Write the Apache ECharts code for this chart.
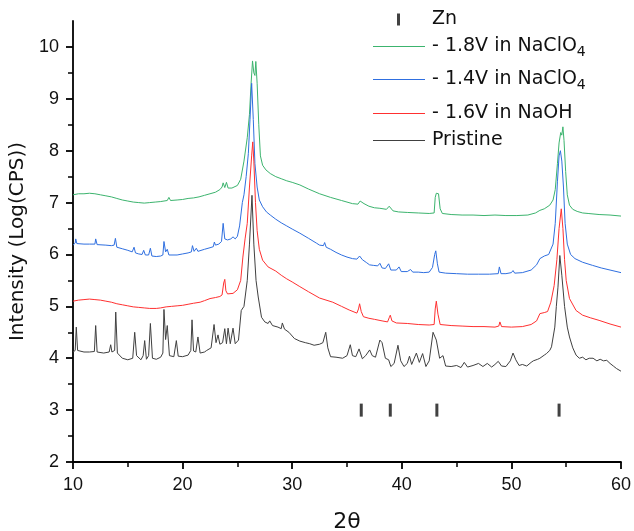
<!DOCTYPE html>
<html>
<head>
<meta charset="utf-8">
<script src="https://cdn.jsdelivr.net/npm/echarts@6/dist/echarts.min.js"></script>
<style>
  html, body { margin: 0; padding: 0; background: #fff; }
  #chart { width: 634px; height: 531px; }
</style>
</head>
<body>
<div id="chart"></div>
<script>
// XRD patterns, log(CPS) with vertical offsets
const green18V = [[10,7.15],[10.5,7.17],[11,7.17],[11.5,7.18],[12,7.17],[12.5,7.15],[13,7.13],[13.5,7.11],[14,7.08],[14.5,7.05],[15,7.03],[15.5,7.01],[16,7.0],[16.5,6.99],[17,7.0],[17.5,7.01],[18,7.02],[18.6,7.04],[18.75,7.1],[18.9,7.04],[19.5,7.05],[20,7.06],[20.5,7.08],[21,7.09],[21.5,7.11],[22,7.14],[22.5,7.17],[23,7.2],[23.4,7.25],[23.6,7.3],[23.7,7.38],[23.85,7.29],[24.0,7.39],[24.15,7.28],[24.5,7.28],[25,7.33],[25.3,7.45],[25.6,7.8],[25.9,8.25],[26.1,8.7],[26.25,9.3],[26.38,9.73],[26.5,9.5],[26.6,9.45],[26.68,9.72],[26.8,9.3],[26.95,8.5],[27.1,7.9],[27.3,7.72],[27.6,7.63],[28,7.56],[28.5,7.5],[29,7.46],[29.5,7.42],[30,7.39],[30.7,7.34],[31.5,7.26],[32.5,7.17],[33.5,7.1],[34.5,7.04],[35.5,6.98],[36.0,6.97],[36.2,7.03],[36.35,7.06],[36.55,6.98],[37,6.93],[37.5,6.9],[38,6.89],[38.6,6.87],[38.85,6.93],[39.0,6.92],[39.2,6.84],[39.7,6.82],[40.5,6.81],[41.5,6.8],[42.5,6.79],[42.95,6.8],[43.05,7.1],[43.15,7.18],[43.35,7.17],[43.5,6.88],[43.7,6.79],[44.5,6.77],[45.5,6.76],[46.5,6.76],[47.5,6.75],[48.5,6.76],[49.5,6.75],[50.5,6.75],[51.5,6.76],[52.2,6.8],[52.6,6.85],[53.0,6.88],[53.5,6.95],[53.8,7.05],[54.0,7.25],[54.2,7.75],[54.35,8.15],[54.5,8.35],[54.6,8.3],[54.7,8.46],[54.8,8.2],[54.95,7.6],[55.1,7.15],[55.3,6.95],[55.6,6.87],[56,6.83],[56.5,6.8],[57,6.79],[58,6.77],[59,6.76],[60,6.74]];

const blue14V = [[10,6.18],[10.2,6.22],[10.25,6.3],[10.35,6.21],[11,6.2],[11.5,6.2],[12,6.2],[12.07,6.3],[12.2,6.19],[13,6.18],[13.5,6.17],[13.75,6.18],[13.87,6.31],[14.0,6.14],[14.5,6.11],[15,6.08],[15.4,6.05],[15.57,6.14],[15.7,6.03],[16,6.01],[16.3,6.0],[16.45,6.08],[16.6,5.99],[16.9,5.99],[17.06,6.12],[17.2,5.97],[17.6,5.96],[18,5.97],[18.2,5.99],[18.3,6.25],[18.45,6.05],[18.6,6.1],[18.75,5.99],[19.5,5.99],[20,6.01],[20.5,6.03],[20.8,6.05],[20.9,6.17],[21.05,6.06],[21.25,6.12],[21.4,6.06],[22,6.1],[22.5,6.13],[22.8,6.15],[22.9,6.24],[23.0,6.18],[23.3,6.2],[23.55,6.25],[23.7,6.6],[23.85,6.3],[24.1,6.28],[24.4,6.3],[24.6,6.34],[24.8,6.3],[25.0,6.35],[25.2,6.55],[25.45,7.0],[25.6,7.15],[25.8,7.5],[26.0,7.95],[26.15,8.6],[26.3,9.3],[26.45,8.6],[26.6,7.75],[26.8,7.3],[27.0,7.05],[27.3,6.92],[27.65,6.82],[28,6.76],[28.5,6.68],[29,6.61],[29.5,6.55],[30,6.49],[30.7,6.41],[31.5,6.31],[32.2,6.22],[32.5,6.18],[32.85,6.17],[32.96,6.23],[33.1,6.14],[33.5,6.1],[34,6.04],[34.5,5.99],[35,5.95],[35.5,5.92],[35.9,5.91],[36.15,5.97],[36.4,5.9],[36.8,5.84],[37.06,5.8],[37.4,5.79],[37.8,5.78],[38.0,5.83],[38.2,5.74],[38.5,5.73],[38.8,5.82],[39.0,5.7],[39.5,5.7],[39.75,5.76],[39.95,5.67],[40.5,5.67],[40.8,5.71],[41.0,5.66],[41.5,5.66],[42,5.65],[42.5,5.66],[42.8,5.75],[43.0,6.0],[43.1,6.07],[43.25,5.82],[43.4,5.66],[44,5.64],[45,5.63],[46,5.62],[47,5.62],[48,5.62],[48.8,5.63],[48.9,5.76],[49.05,5.63],[49.5,5.63],[50.0,5.65],[50.15,5.69],[50.3,5.64],[51,5.65],[51.8,5.7],[52.3,5.8],[52.6,5.92],[53.0,5.97],[53.4,6.0],[53.8,6.2],[54.0,6.6],[54.2,7.4],[54.35,7.9],[54.47,8.0],[54.6,7.8],[54.75,7.3],[54.9,6.6],[55.1,6.2],[55.4,6.0],[55.8,5.92],[56.5,5.85],[57.4,5.79],[58.2,5.74],[59,5.7],[60,5.65]];

const red16V = [[10,5.1],[10.5,5.12],[11,5.13],[11.5,5.14],[12,5.13],[12.5,5.12],[13,5.1],[13.5,5.08],[14,5.05],[14.5,5.03],[15,5.01],[15.5,4.99],[16,4.98],[16.5,4.97],[17,4.96],[17.6,4.96],[18,4.97],[18.5,4.99],[19,5.0],[19.5,5.01],[20,5.02],[20.5,5.04],[21,5.06],[21.6,5.08],[22,5.11],[22.5,5.15],[23,5.17],[23.4,5.19],[23.6,5.22],[23.75,5.45],[23.85,5.52],[23.95,5.3],[24.1,5.24],[24.6,5.25],[25.0,5.32],[25.3,5.5],[25.5,5.95],[25.7,6.3],[25.9,6.6],[26.1,7.3],[26.3,7.9],[26.4,8.17],[26.5,7.8],[26.65,7.0],[26.8,6.46],[27.0,6.1],[27.3,5.89],[27.8,5.76],[28.5,5.68],[29,5.6],[29.5,5.53],[30,5.47],[30.7,5.38],[31.5,5.28],[32.5,5.16],[33.7,5.08],[34.5,5.0],[35.2,4.93],[35.9,4.87],[36.05,4.95],[36.15,5.05],[36.3,4.9],[36.5,4.8],[37,4.77],[37.5,4.75],[38.2,4.72],[38.7,4.7],[38.85,4.78],[38.95,4.83],[39.1,4.72],[39.5,4.68],[40.5,4.67],[41.5,4.65],[42.5,4.64],[42.95,4.65],[43.05,4.95],[43.15,5.1],[43.3,4.85],[43.5,4.65],[44.5,4.63],[45.5,4.62],[46.5,4.61],[47.5,4.61],[48.5,4.6],[48.85,4.62],[48.95,4.7],[49.1,4.61],[50,4.6],[51,4.61],[51.8,4.65],[52.3,4.72],[52.6,4.86],[53.0,4.88],[53.3,4.9],[53.6,5.08],[53.9,5.4],[54.15,5.9],[54.35,6.5],[54.55,6.88],[54.7,6.5],[54.85,5.9],[55.0,5.5],[55.3,5.15],[55.9,4.92],[56.5,4.83],[57.2,4.78],[58,4.73],[59,4.66],[60,4.6]];

const pristine = [[10,4.12],[10.2,4.15],[10.3,4.6],[10.42,4.15],[11,4.12],[11.5,4.12],[11.95,4.13],[12.07,4.63],[12.2,4.12],[12.8,4.1],[13.3,4.12],[13.44,4.26],[13.55,4.12],[13.8,4.15],[13.9,4.89],[14.05,4.1],[14.5,4.0],[15,3.97],[15.45,4.0],[15.63,4.5],[15.8,4.05],[16.2,3.97],[16.4,4.05],[16.54,4.34],[16.7,3.98],[16.9,4.05],[17.06,4.67],[17.25,4.0],[17.6,3.98],[18,4.02],[18.2,4.1],[18.3,4.94],[18.45,4.36],[18.6,4.63],[18.8,4.05],[19.2,4.03],[19.43,4.34],[19.6,4.04],[20,4.03],[20.5,4.06],[20.75,4.15],[20.86,4.74],[21.0,4.14],[21.2,4.12],[21.4,4.41],[21.6,4.1],[22,4.12],[22.2,4.15],[22.6,4.2],[22.87,4.65],[23.05,4.3],[23.23,4.45],[23.4,4.27],[23.65,4.3],[23.85,4.57],[24.0,4.28],[24.15,4.58],[24.35,4.28],[24.6,4.58],[24.8,4.28],[25.1,4.35],[25.35,4.92],[25.6,5.0],[25.9,5.5],[26.1,6.2],[26.33,7.14],[26.5,6.2],[26.7,5.5],[26.9,5.18],[27.2,4.79],[27.5,4.7],[27.8,4.67],[27.95,4.72],[28.2,4.63],[28.7,4.6],[29.0,4.57],[29.1,4.68],[29.3,4.56],[29.7,4.5],[30.2,4.38],[30.7,4.33],[31.2,4.3],[31.6,4.28],[32.0,4.25],[32.5,4.27],[32.8,4.3],[33.06,4.5],[33.25,4.2],[33.5,4.03],[34,4.02],[34.6,4.0],[35.0,4.05],[35.3,4.26],[35.5,4.05],[35.8,4.03],[36.1,4.18],[36.4,3.99],[36.7,4.05],[37.07,4.16],[37.3,4.05],[37.6,4.02],[38.0,4.35],[38.2,4.3],[38.5,4.0],[38.8,3.97],[39.0,3.84],[39.3,3.9],[39.65,4.25],[39.9,3.95],[40.2,3.84],[40.5,3.9],[40.7,4.04],[40.9,3.88],[41.33,4.1],[41.6,3.92],[41.9,4.09],[42.2,3.84],[42.5,3.95],[42.85,4.5],[43.15,4.35],[43.45,4.0],[43.76,4.05],[44.0,3.85],[44.5,3.84],[45,3.86],[45.4,3.82],[45.7,3.92],[46,3.83],[46.5,3.86],[47,3.9],[47.4,3.84],[47.8,3.9],[48.2,3.83],[48.5,3.88],[48.8,3.94],[49.1,3.85],[49.5,3.84],[49.9,3.95],[50.15,4.1],[50.4,3.97],[50.7,3.86],[51,3.88],[51.4,3.85],[51.8,3.92],[52.0,3.95],[52.4,3.98],[52.6,4.0],[53.0,4.06],[53.2,4.09],[53.5,4.15],[53.66,4.22],[53.96,4.6],[54.1,5.0],[54.25,5.37],[54.42,5.98],[54.6,5.6],[54.85,5.0],[55.1,4.6],[55.3,4.41],[55.6,4.2],[55.9,4.06],[56.2,4.0],[56.5,4.02],[56.8,3.97],[57.1,4.0],[57.45,4.0],[57.8,3.95],[58.1,3.98],[58.4,3.95],[58.7,3.96],[59.0,3.9],[59.3,3.85],[59.6,3.8],[60,3.75]];

// Zn reference reflections (2theta), drawn as bars at y = 3
const znPeaks = [36.3, 38.95, 43.2, 54.35];
const znLevel = 3;

const yTickValues = [2, 3, 4, 5, 6, 7, 8, 9, 10];

const seriesNames = ["Zn", "- 1.8V in NaClO4", "- 1.4V in NaClO4", "- 1.6V in NaOH", "Pristine"];
const legendTops = [10, 37, 70, 104, 131];

const chart = echarts.init(document.getElementById("chart"));

const legendFont = "DejaVu Sans";
const legendRich = {
  n: { fontFamily: legendFont, fontSize: 19, color: "#111", lineHeight: 26 },
  s: { fontFamily: legendFont, fontSize: 14, color: "#111", lineHeight: 12, verticalAlign: "bottom" }
};

// one legend per row so each row sits where it does in the figure
const legends = seriesNames.map((name, i) => {
  const isZn = i === 0;
  return {
    data: [{ name, icon: isZn ? "path://M0,0H3V12H0Z" : "path://M0,0H52V1.2H0Z" }],
    left: isZn ? 397 : 373,
    top: legendTops[i],
    padding: 0,
    itemWidth: isZn ? 3 : 52,
    itemHeight: 12,
    selectedMode: false,
    formatter: (n) => n.endsWith("O4")
      ? "{n|" + n.slice(0, -1) + "}{s|4}"
      : "{n|" + n + "}",
    textStyle: {
      padding: [0, 0, 0, isZn ? 27 : 2],
      rich: legendRich
    }
  };
});

const lineSeries = (name, data, color) => ({
  name,
  type: "line",
  data,
  symbol: "none",
  showSymbol: false,
  lineStyle: { color, width: 1 },
  itemStyle: { color },
  z: 3
});

chart.setOption({
  animation: false,
  backgroundColor: "#fff",
  grid: { left: 73, right: 13, top: 21, bottom: 69, outerBoundsMode: "none" },
  legend: legends,
  xAxis: {
    type: "value",
    min: 10,
    max: 60,
    interval: 10,
    name: "2\u03b8",
    nameLocation: "middle",
    nameGap: 49,
    nameTextStyle: { fontFamily: legendFont, fontSize: 22, color: "#111" },
    axisLine: { lineStyle: { color: "#000", width: 1.8 } },
    axisTick: { length: 7, lineStyle: { color: "#000", width: 1.8 } },
    minorTick: { show: true, splitNumber: 2, length: 5, lineStyle: { color: "#000", width: 1.5 } },
    axisLabel: { margin: 14, fontFamily: "Liberation Sans", fontSize: 18, color: "#111" },
    splitLine: { show: false }
  },
  yAxis: {
    type: "value",
    min: 2,
    max: 10.5,
    interval: 1,
    name: "Intensity (Log(CPS))",
    nameLocation: "middle",
    nameRotate: 90,
    nameGap: 34,
    nameTextStyle: { fontFamily: legendFont, fontSize: 20, color: "#111" },
    axisLine: { show: true, lineStyle: { color: "#000", width: 1.8 } },
    axisTick: { show: true, length: 7, customValues: yTickValues, lineStyle: { color: "#000", width: 1.8 } },
    minorTick: { show: true, splitNumber: 2, length: 5, lineStyle: { color: "#000", width: 1.5 } },
    axisLabel: { margin: 14, customValues: yTickValues, fontFamily: "Liberation Sans", fontSize: 18, color: "#111" },
    splitLine: { show: false }
  },
  series: [
    {
      name: "Zn",
      type: "scatter",
      data: znPeaks.map(x => [x, znLevel]),
      symbol: "rect",
      symbolSize: [3, 13],
      itemStyle: { color: "#111" },
      z: 4
    },
    lineSeries("- 1.8V in NaClO4", green18V, "#3cb46e"),
    lineSeries("- 1.4V in NaClO4", blue14V, "#2f6fe0"),
    lineSeries("- 1.6V in NaOH", red16V, "#ff3030"),
    lineSeries("Pristine", pristine, "#404040")
  ]
});
</script>
</body>
</html>
